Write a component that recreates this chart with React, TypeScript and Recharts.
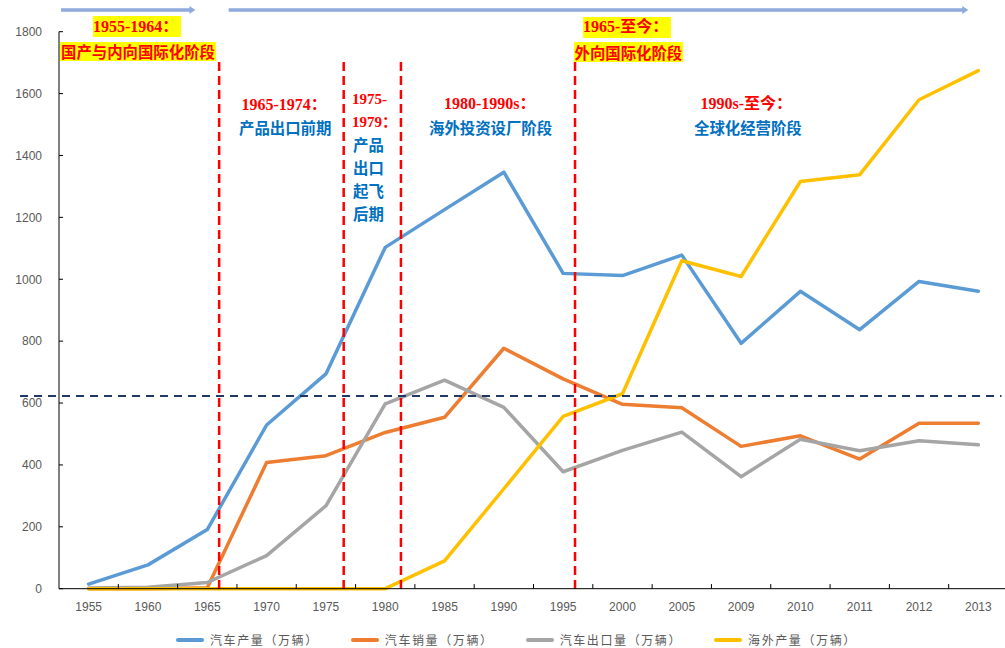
import React from 'react';
import { LineChart, Line, XAxis, YAxis, ReferenceLine, Legend } from 'recharts';

// Japanese auto industry, 1955-2013 (unit: 万辆)
const years = ['1955', '1960', '1965', '1970', '1975', '1980', '1985', '1990', '1995', '2000', '2005', '2009', '2010', '2011', '2012', '2013'];
const production = [15, 77, 191, 529, 694, 1103, 1225, 1346, 1019, 1012, 1078, 793, 961, 837, 993, 961];
const sales = [0, 0, 3, 408, 430, 505, 554, 777, 678, 596, 585, 460, 494, 419, 535, 535];
const exportsVol = [2, 5, 20, 107, 268, 597, 674, 586, 378, 447, 506, 362, 483, 446, 478, 465];
const overseas = [0, 0, 0, 0, 0, 0, 90, 323, 557, 630, 1060, 1009, 1316, 1338, 1580, 1674];

const seriesKeys = ['production', 'sales', 'exportsVol', 'overseas'];

const yTicks = [0, 200, 400, 600, 800, 1000, 1200, 1400, 1600, 1800];

// phase boundaries (fractional category positions) and the reference level
const phaseBreaks = [2.2, 4.3, 5.265, 8.2];
const referenceLevel = 623;

const rows = years.map((year, idx) => ({
  idx,
  year,
  production: production[idx],
  sales: sales[idx],
  exportsVol: exportsVol[idx],
  overseas: overseas[idx],
}));

const idxTicks = years.map((_, i) => i);
const bandEdges = years.map((_, i) => i + 0.5);

const ArrowShape = (p: any) => {
  const { x1, y1, x2, y2, stroke } = p;
  const head = 6;
  return (
    <g>
      <line x1={x1} y1={y1} x2={x2 - head + 1} y2={y2} stroke={stroke} strokeWidth={3.5} />
      <polygon points={`${x2},${y2} ${x2 - head},${y2 - 4} ${x2 - head},${y2 + 4}`} fill={stroke} />
    </g>
  );
};

const LegendContent = (props: any) => {
  const items = [...(props.payload || [])].sort(
    (a: any, b: any) => seriesKeys.indexOf(a.dataKey) - seriesKeys.indexOf(b.dataKey)
  );
  return (
    <div style={{ display: 'flex', alignItems: 'center', gap: 32, height: 20 }}>
      {items.map((e: any) => (
        <div key={e.value} style={{ display: 'flex', alignItems: 'center' }}>
          <span style={{ display: 'inline-block', width: 28, height: 4, background: e.color, borderRadius: 2, marginRight: 6 }} />
          <span style={{ fontFamily: '"Noto Sans CJK SC", sans-serif', fontSize: 12, letterSpacing: 1.6, color: '#595959', lineHeight: '20px', whiteSpace: 'nowrap' }}>
            {e.value}
          </span>
        </div>
      ))}
    </div>
  );
};

const serif = '"Liberation Serif", "Noto Sans CJK SC", serif';
const cjk = '"Noto Sans CJK SC", sans-serif';
const RED = '#FF0000';
const BLUE_TEXT = '#0070C0';

const yearStyle = (size: number): React.CSSProperties => ({
  position: 'absolute',
  fontFamily: serif,
  fontWeight: 700,
  fontSize: size,
  color: RED,
  whiteSpace: 'nowrap',
});

const cnStyle = (color: string): React.CSSProperties => ({
  position: 'absolute',
  fontFamily: cjk,
  fontWeight: 700,
  fontSize: 15.4,
  color,
  whiteSpace: 'nowrap',
});

export default function App() {
  const axisTick = { fill: '#595959', fontSize: 12, fontFamily: '"Liberation Sans", Arial, sans-serif' };
  return (
    <div style={{ position: 'absolute', left: 0, top: 0, width: 1005, height: 648, overflow: 'hidden', background: '#fff' }}>
      <LineChart width={1008} height={648} data={rows} margin={{ top: 31.7, right: 0, bottom: 9.3, left: 0 }}>
        <XAxis
          type="number"
          dataKey="idx"
          domain={[-0.5, 15.5]}
          ticks={idxTicks}
          interval={0}
          tickFormatter={(v: number) => years[v]}
          tickLine={false}
          tickSize={0}
          tickMargin={14}
          height={30}
          axisLine={{ stroke: '#000' }}
          tick={axisTick}
        />
        <YAxis
          domain={[0, 1800]}
          ticks={yTicks}
          interval={0}
          width={59}
          tickSize={-4}
          tickMargin={21}
          axisLine={{ stroke: '#000' }}
          tickLine={{ stroke: '#000' }}
          tick={axisTick}
        />
        <Legend verticalAlign="bottom" content={<LegendContent />} wrapperStyle={{ left: 176, top: 630, bottom: 'auto', width: 'auto' }} />

        <Line type="linear" dataKey="production" name="汽车产量（万辆）" stroke="#5B9BD5" strokeWidth={3.5} dot={false} strokeLinejoin="round" strokeLinecap="round" isAnimationActive={false} />
        <Line type="linear" dataKey="sales" name="汽车销量（万辆）" stroke="#ED7D31" strokeWidth={3.5} dot={false} strokeLinejoin="round" strokeLinecap="round" isAnimationActive={false} />
        <Line type="linear" dataKey="exportsVol" name="汽车出口量（万辆）" stroke="#A5A5A5" strokeWidth={3.5} dot={false} strokeLinejoin="round" strokeLinecap="round" isAnimationActive={false} />
        <Line type="linear" dataKey="overseas" name="海外产量（万辆）" stroke="#FFC000" strokeWidth={3.5} dot={false} strokeLinejoin="round" strokeLinecap="round" isAnimationActive={false} />

        {bandEdges.map((x) => (
          <ReferenceLine key={`edge-${x}`} segment={[{ x, y: 0 }, { x, y: 15 }]} stroke="#000" strokeWidth={1} ifOverflow="visible" />
        ))}

        <ReferenceLine
          segment={[{ x: -1.157, y: referenceLevel }, { x: 15.39, y: referenceLevel }]}
          stroke="#1F3864"
          strokeWidth={2}
          strokeDasharray="8 6"
          ifOverflow="visible"
        />

        {phaseBreaks.map((x) => (
          <ReferenceLine key={`phase-${x}`} segment={[{ x, y: 1702 }, { x, y: -15 }]} stroke={RED} strokeWidth={2.5} strokeDasharray="9 5" ifOverflow="visible" />
        ))}

        <ReferenceLine segment={[{ x: -0.466, y: 1870 }, { x: 1.8, y: 1870 }]} stroke="#8FAADC" ifOverflow="visible" shape={ArrowShape} />
        <ReferenceLine segment={[{ x: 2.36, y: 1870 }, { x: 14.83, y: 1870 }]} stroke="#8FAADC" ifOverflow="visible" shape={ArrowShape} />
      </LineChart>

      {/* phase captions */}
      <div style={{ ...yearStyle(16), left: 93, top: 16, lineHeight: '21px', background: '#FFFF00', paddingRight: 3 }}>1955-1964：</div>
      <div style={{ ...cnStyle(RED), left: 60, top: 41.5, lineHeight: '19.5px', background: '#FFFF00', padding: '0 1px' }}>国产与内向国际化阶段</div>

      <div style={{ ...yearStyle(16), left: 241.5, top: 94, lineHeight: '22px' }}>1965-1974：</div>
      <div style={{ ...cnStyle(BLUE_TEXT), left: 239, top: 117, lineHeight: '20px' }}>产品出口前期</div>

      <div style={{ ...yearStyle(15), left: 352, top: 87.5, lineHeight: '23px' }}>1975-</div>
      <div style={{ ...yearStyle(15), left: 352, top: 110.5, lineHeight: '23px' }}>1979：</div>
      <div style={{ ...cnStyle(BLUE_TEXT), left: 353, top: 133, lineHeight: '23px', whiteSpace: 'normal', width: 32 }}>
        产品<br />出口<br />起飞<br />后期
      </div>

      <div style={{ ...yearStyle(16), left: 444, top: 93, lineHeight: '22px' }}>1980-1990s：</div>
      <div style={{ ...cnStyle(BLUE_TEXT), left: 429, top: 116.5, lineHeight: '20px' }}>海外投资设厂阶段</div>

      <div style={{ ...yearStyle(16), left: 583, top: 17, lineHeight: '20.5px', background: '#FFFF00', paddingRight: 3 }}>1965-至今：</div>
      <div style={{ ...cnStyle(RED), left: 573.5, top: 41.7, lineHeight: '20px', background: '#FFFF00', padding: '0 1px' }}>外向国际化阶段</div>

      <div style={{ ...yearStyle(16), left: 700.5, top: 93, lineHeight: '22px' }}>1990s-至今：</div>
      <div style={{ ...cnStyle(BLUE_TEXT), left: 694, top: 117, lineHeight: '20px' }}>全球化经营阶段</div>
    </div>
  );
}
